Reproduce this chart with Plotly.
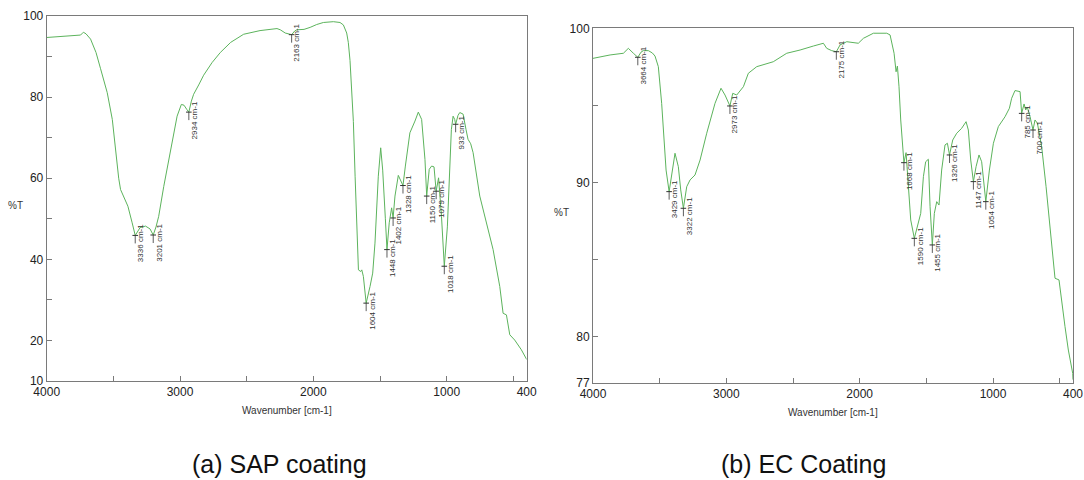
import numpy as np
import plotly.graph_objects as go

# ---------------- data ----------------
sap_wn = [4000, 3900, 3800, 3746, 3725, 3705, 3671, 3630, 3596, 3546, 3508, 3484, 3460, 3446,
          3420, 3391, 3359, 3336, 3300, 3259, 3225, 3201, 3180, 3160, 3122, 3072, 3022, 2990,
          2970, 2950, 2934, 2915, 2898, 2860, 2823, 2760, 2698, 2620, 2523, 2400, 2273, 2248,
          2211, 2163, 2140, 2124, 2070, 2024, 1975, 1925, 1850, 1800, 1775, 1750, 1738, 1725,
          1712, 1700, 1687, 1675, 1662, 1645, 1637, 1625, 1604, 1575, 1555, 1538, 1513, 1495,
          1480, 1460, 1448, 1431, 1413, 1402, 1388, 1363, 1345, 1328, 1310, 1290, 1276, 1238,
          1213, 1188, 1163, 1150, 1131, 1113, 1095, 1079, 1061, 1039, 1018, 995, 980, 965, 952,
          940, 933, 915, 902, 877, 855, 840, 820, 802, 752, 702, 652, 602, 577, 552, 527, 490,
          440, 400]
sap_t = [94.7, 94.9, 95.2, 95.3, 96.0, 95.6, 94.3, 91.0, 87.0, 81.1, 74.5, 66.4, 60.0, 57.2,
         55.2, 53.1, 49.0, 45.9, 47.8, 48.2, 47.5, 46.0, 48.0, 50.6, 58.0, 67.1, 75.3, 78.2,
         78.0, 77.0, 76.3, 79.0, 80.7, 83.0, 85.4, 88.5, 91.0, 93.5, 95.5, 96.4, 96.9, 96.6,
         95.8, 95.4, 96.3, 96.6, 96.7, 97.2, 97.9, 98.4, 98.6, 98.4, 97.8, 95.8, 93.5, 89.0,
         81.1, 74.0, 60.5, 48.0, 37.4, 37.0, 37.4, 35.8, 29.2, 33.3, 36.6, 44.0, 60.5, 67.5,
         62.0, 50.0, 42.4, 49.0, 52.7, 50.2, 55.6, 60.7, 59.3, 58.2, 63.0, 68.5, 71.2, 74.1,
         76.3, 74.5, 64.6, 55.6, 62.2, 63.0, 62.8, 56.8, 60.1, 50.6, 38.3, 48.0, 60.0, 72.0, 75.3,
         74.5, 73.3, 75.5, 76.2, 75.8, 72.0, 69.6, 68.5, 66.3, 55.6, 49.0, 42.4, 33.3, 26.7, 26.3,
         21.4, 20.1, 17.7, 15.3]
sap_peaks = [3336, 3201, 2934, 2163, 1604, 1448, 1402, 1328, 1150, 1079, 1018, 933]

ec_wn = [4000, 3872, 3772, 3735, 3697, 3664, 3640, 3622, 3585, 3555, 3535, 3510, 3485, 3467,
         3452, 3429, 3410, 3385, 3360, 3342, 3322, 3297, 3272, 3235, 3197, 3147, 3085, 3040,
         3010, 2973, 2952, 2922, 2872, 2835, 2772, 2672, 2648, 2547, 2447, 2347, 2272, 2247,
         2210, 2175, 2147, 2097, 2010, 1972, 1897, 1797, 1772, 1742, 1727, 1717, 1705, 1692,
         1677, 1668, 1652, 1635, 1617, 1590, 1568, 1542, 1522, 1505, 1485, 1472, 1455, 1440,
         1422, 1405, 1385, 1360, 1342, 1326, 1302, 1272, 1235, 1202, 1185, 1167, 1147, 1127,
         1105, 1085, 1054, 1027, 997, 960, 910, 877, 860, 835, 797, 785, 767, 755, 742, 722,
         700, 685, 667, 635, 602, 577, 552, 535, 505, 485, 460, 435, 417, 402, 400]
ec_t = [98.05, 98.27, 98.38, 98.70, 98.38, 98.12, 98.45, 98.55, 98.55, 98.40, 98.20, 97.51,
        95.13, 92.32, 90.80, 89.40, 90.59, 91.89, 91.02, 89.51, 88.32, 89.72, 90.16, 90.48,
        91.45, 93.19, 95.13, 96.11, 95.67, 94.96, 95.78, 95.67, 96.21, 97.08, 97.51, 97.77,
        97.83, 98.38, 98.59, 98.85, 99.03, 98.70, 98.55, 98.48, 98.92, 99.13, 99.03, 99.35,
        99.68, 99.68, 99.57, 98.38, 97.18, 97.55, 96.21, 94.05, 91.89, 91.28, 91.93, 89.72,
        87.56, 86.37, 87.13, 87.99, 90.37, 91.34, 91.50, 88.42, 85.94, 87.99, 88.75, 88.53,
        90.80, 92.43, 92.54, 91.78, 92.75, 93.19, 93.51, 93.94, 93.40, 91.45, 90.05, 91.02,
        91.78, 91.34, 88.75, 90.80, 92.54, 93.62, 94.26, 94.81, 95.46, 95.96, 95.89, 94.48,
        95.09, 94.70, 94.87, 94.26, 93.40, 94.05, 93.84, 92.32, 89.72, 87.56, 85.40, 83.78,
        83.67, 82.15, 80.64, 79.12, 78.26, 77.60, 77.20]
ec_peaks = [3664, 3429, 3322, 2973, 2175, 1668, 1590, 1455, 1326, 1147, 1054, 785, 700]

x_tickvals = [4000, 3500, 3000, 2500, 2000, 1500, 1000, 500, 400]
x_ticktext = ["4000", "", "3000", "", "2000", "", "1000", "", "400"]
sap_y_tickvals = [10, 20, 30, 40, 50, 60, 70, 80, 90, 100]
sap_y_ticktext = ["10", "20", "", "40", "", "60", "", "80", "", "100"]
ec_y_tickvals = [77, 80, 85, 90, 95, 100]
ec_y_ticktext = ["77", "80", "", "90", "", "100"]

captions = ["(a) SAP coating", "(b) EC Coating"]
x_title = "Wavenumber [cm-1]"
y_title = "%T"

# ---------------- figure ----------------
GREEN = "#5cb35c"
DARK = "#333333"
AXC = "#7a7a7a"
FONT = "Liberation Sans, Arial, sans-serif"

fig = go.Figure()

panels = [
    dict(wn=sap_wn, t=sap_t, peaks=sap_peaks, xa="x", ya="y",
         yv=sap_y_tickvals, yt=sap_y_ticktext, rng=[10, 100]),
    dict(wn=ec_wn, t=ec_t, peaks=ec_peaks, xa="x2", ya="y2",
         yv=ec_y_tickvals, yt=ec_y_ticktext, rng=[77, 100]),
]

annotations = []
for p in panels:
    fig.add_trace(go.Scatter(x=p["wn"], y=p["t"], mode="lines",
                             line=dict(color=GREEN, width=1),
                             xaxis=p["xa"], yaxis=p["ya"], showlegend=False,
                             hoverinfo="skip"))
    wn_asc = np.array(p["wn"][::-1], dtype=float)
    t_asc = np.array(p["t"][::-1], dtype=float)
    peak_t = np.interp(p["peaks"], wn_asc, t_asc)
    fig.add_trace(go.Scatter(x=p["peaks"], y=peak_t, mode="markers",
                             marker=dict(symbol="line-ew", size=4,
                                         line=dict(width=1, color=DARK)),
                             xaxis=p["xa"], yaxis=p["ya"], showlegend=False,
                             hoverinfo="skip"))
    for wn, tv in zip(p["peaks"], peak_t):
        annotations.append(dict(
            x=wn, y=tv, xref=p["xa"], yref=p["ya"],
            text=f"{wn} cm-1", textangle=-90,
            font=dict(family=FONT, size=8, color=DARK),
            showarrow=True, arrowhead=0, arrowwidth=0.8, arrowcolor=DARK,
            ax=0, ay=8, xanchor="center", yanchor="top", borderpad=0,
        ))
    dom = "x domain" if p["xa"] == "x" else "x2 domain"
    ydom = "y domain" if p["ya"] == "y" else "y2 domain"
    annotations.append(dict(x=0.5, y=0, xref=dom, yref=ydom, text=x_title,
                            showarrow=False, xanchor="center", yanchor="top",
                            yshift=-22,
                            font=dict(family=FONT, size=10, color=DARK)))
    annotations.append(dict(x=-0.066, y=0.48, xref=dom, yref=ydom, text=y_title,
                            showarrow=False, xanchor="center", yanchor="middle",
                            font=dict(family=FONT, size=10, color=DARK)))

annotations.append(dict(x=279 / 1084, y=1 - 464 / 480, xref="paper", yref="paper",
                        text=captions[0], showarrow=False,
                        xanchor="center", yanchor="middle",
                        font=dict(family=FONT, size=25, color="#111111")))
annotations.append(dict(x=803 / 1084, y=1 - 464 / 480, xref="paper", yref="paper",
                        text=captions[1], showarrow=False,
                        xanchor="center", yanchor="middle",
                        font=dict(family=FONT, size=25, color="#111111")))

axis_common = dict(showline=True, mirror=True, linecolor=AXC, linewidth=1,
                   ticks="inside", ticklen=5, tickcolor=AXC, showgrid=False,
                   zeroline=False, automargin=False,
                   tickfont=dict(family=FONT, size=12, color="#222222"))

fig.update_layout(
    width=1084, height=480,
    margin=dict(l=0, r=0, t=0, b=0),
    paper_bgcolor="white", plot_bgcolor="white",
    showlegend=False,
    xaxis=dict(domain=[46.7 / 1084, 526.7 / 1084], range=[4000, 400],
               tickvals=x_tickvals, ticktext=x_ticktext, anchor="y", **axis_common),
    yaxis=dict(domain=[1 - 381 / 480, 1 - 16 / 480], range=panels[0]["rng"],
               tickvals=panels[0]["yv"], ticktext=panels[0]["yt"], anchor="x",
               **axis_common),
    xaxis2=dict(domain=[593 / 1084, 1073 / 1084], range=[4000, 400],
                tickvals=x_tickvals, ticktext=x_ticktext, anchor="y2", **axis_common),
    yaxis2=dict(domain=[1 - 382.7 / 480, 1 - 28.3 / 480], range=panels[1]["rng"],
                tickvals=panels[1]["yv"], ticktext=panels[1]["yt"], anchor="x2",
                **axis_common),
    annotations=annotations,
)

fig.write_html("out.html",
               config={"displayModeBar": False},
               post_script="document.body.style.margin='0';document.body.style.overflow='hidden';")
